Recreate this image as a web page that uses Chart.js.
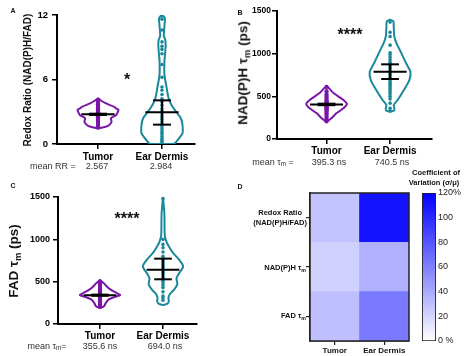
<!DOCTYPE html>
<html><head><meta charset="utf-8">
<script src="https://cdn.jsdelivr.net/npm/chart.js@4.4.1/dist/chart.umd.min.js"></script>
<style>
body{margin:0;background:#fff;}
#fig{position:relative;width:474px;height:356px;overflow:hidden;font-family:'Liberation Sans',Arial,sans-serif;color:#111;}
canvas{position:absolute;}
.t{position:absolute;white-space:nowrap;line-height:1;transform:translate(-50%,-50%);}
.r{position:absolute;white-space:nowrap;line-height:1.3;transform:translate(-100%,-50%);text-align:center;}
.rot{transform:translate(-50%,-50%) rotate(-90deg);}
.b{font-weight:bold;}
.m{font-size:9px;color:#333;}
sub{font-size:70%;vertical-align:-0.3em;line-height:0;}
</style></head>
<body><div id="fig">
<canvas id="cA" width="237" height="178" style="left:0;top:0"></canvas>
<canvas id="cB" width="237" height="178" style="left:237px;top:0"></canvas>
<canvas id="cC" width="237" height="178" style="left:0;top:178px"></canvas>
<canvas id="cD" width="237" height="178" style="left:237px;top:178px"></canvas>
<canvas id="cCB" width="64" height="178" style="left:410px;top:178px"></canvas>

<div class="t b" style="left:13px;top:10px;font-size:7px">A</div>
<div class="t b" style="left:240px;top:12px;font-size:7px">B</div>
<div class="t b" style="left:13px;top:185px;font-size:7px">C</div>
<div class="t b" style="left:240px;top:186px;font-size:7px">D</div>

<div class="t b rot" style="left:28px;top:80px;font-size:10px">Redox Ratio (NAD(P)H/FAD)</div>
<div class="t b rot" style="left:243px;top:73px;font-size:13.5px">NAD(P)H τ<sub>m</sub> (ps)</div>
<div class="t b rot" style="left:14px;top:261px;font-size:13.5px">FAD τ<sub>m</sub> (ps)</div>

<div class="t b" style="left:127px;top:80px;font-size:16px">*</div>
<div class="t b" style="left:350px;top:35px;font-size:16px">****</div>
<div class="t b" style="left:127px;top:219px;font-size:16px">****</div>

<div class="t m" style="left:53px;top:166px">mean RR =</div>
<div class="t m" id="mA0" style="left:97px;top:166px"></div>
<div class="t m" id="mA1" style="left:161px;top:166px"></div>
<div class="t m" style="left:273px;top:162px">mean τ<sub>m</sub> =</div>
<div class="t m" id="mB0" style="left:329px;top:162px"></div>
<div class="t m" id="mB1" style="left:392px;top:162px"></div>
<div class="t m" style="left:47px;top:346px">mean τ<sub>m</sub>=</div>
<div class="t m" id="mC0" style="left:100px;top:346px"></div>
<div class="t m" id="mC1" style="left:165px;top:346px"></div>

<div class="r b" style="left:307px;top:218px;font-size:7.5px">Redox Ratio<br>(NAD(P)H/FAD)</div>
<div class="r b" style="left:306px;top:268px;font-size:7.5px">NAD(P)H τ<sub>m</sub></div>
<div class="r b" style="left:306px;top:316px;font-size:7.5px">FAD τ<sub>m</sub></div>

<div class="t b" style="left:436px;top:173px;font-size:7.5px">Coefficient of</div>
<div class="t b" style="left:434px;top:183px;font-size:7.5px">Variation (σ/μ)</div>
</div>
<script>
// ---------- data ----------
const groups = ['Tumor', 'Ear Dermis'];

// Panel A: redox ratio
const rrTumor = [1.52,1.65,1.8,1.95,2.05,2.15,2.25,2.35,2.45,2.5,2.55,2.6,2.65,2.7,2.75,2.8,2.85,2.9,2.95,3.0,3.1,3.2,3.3,3.4,3.55,3.7,3.85,4.05];
const rrEar = [0.05,0.2,0.35,0.5,0.7,0.9,1.1,1.3,1.5,1.7,1.9,2.1,2.3,2.5,2.7,2.9,3.1,3.3,3.6,3.9,4.2,4.6,5.0,5.3,6.2,7.4,8.4,8.8,9.1,9.5,10.6,11.6,11.9];
const rrTumorLevels = [1.46,1.6,1.75,2.05,2.4,2.7,3.0,3.16,3.3,3.47,3.78,4.0,4.25];
const rrTumorDensity = [0,0.37,0.53,0.66,0.63,0.89,0.97,1,0.89,0.77,0.39,0.18,0];
const rrEarLevels = [0,0.1,0.4,1.0,1.8,2.4,3.0,3.66,4.28,5.2,6.45,7.7,8.6,9.2,9.7,10.05,11.0,11.7,12.05];
const rrEarDensity = [0.55,0.65,0.78,1,1,0.92,0.69,0.46,0.32,0.23,0.12,0.12,0.16,0.18,0.16,0.09,0.12,0.14,0];
const rrMedian = [2.76, 2.95];
const rrQ1 = [2.7, 1.8];
const rrQ3 = [2.82, 4.06];
const rrMean = ['2.567', '2.984'];

// Panel B: NAD(P)H tau_m
const nadTumor = [205,230,250,270,290,305,320,335,350,360,370,380,390,395,400,405,410,420,430,440,455,470,490,510,530,560,610];
const nadEar = [330,360,420,470,500,530,555,580,600,620,640,660,680,700,720,740,760,780,800,820,840,860,880,900,930,960,990,1010,1100,1200,1250,1370];
const nadTumorLevels = [199,243,301,360,410,457,535,590,621];
const nadTumorDensity = [0,0.24,0.48,0.83,1,0.83,0.36,0.14,0];
const nadEarLevels = [318,335,360,398,457,574,691,789,887,1004,1121,1199,1316,1380,1398];
const nadEarDensity = [0,0.2,0.21,0.18,0.37,0.68,0.95,1,0.79,0.56,0.32,0.21,0.18,0.16,0];
const nadMedian = [405, 789];
const nadQ1 = [396, 703];
const nadQ3 = [414, 875];
const nadMean = ['395.3 ns', '740.5 ns'];

// Panel C: FAD tau_m
const fadTumor = [200,215,230,250,270,290,300,310,320,330,335,340,345,350,355,360,370,380,390,400,420,440,460,480,500];
const fadEar = [280,310,330,380,430,460,490,510,530,550,570,590,610,630,650,670,690,710,730,750,770,800,850,900,940,1000,1480];
const fadTumorLevels = [189,210,250,290,320,342,360,390,430,480,520];
const fadTumorDensity = [0,0.2,0.29,0.44,0.73,1,0.88,0.63,0.39,0.2,0];
const fadEarLevels = [222,240,270,310,360,400,470,540,600,680,760,830,890,968,1047,1300,1500];
const fadEarDensity = [0,0.22,0.29,0.27,0.36,0.53,0.71,0.67,0.8,1,0.8,0.53,0.36,0.18,0.09,0.07,0];
const fadMedian = [340, 641];
const fadQ1 = [333, 528];
const fadQ3 = [347, 772];
const fadMean = ['355.6 ns', '694.0 ns'];

// Panel D: coefficient of variation (%)
const cvRows = ['Redox Ratio (NAD(P)H/FAD)', 'NAD(P)H τm', 'FAD τm'];
const cvTumor = [28, 22, 30];
const cvEar = [111, 37, 63];
const cvTicks = [0, 20, 40, 60, 80, 100, 120];

// ---------- drawing ----------
Chart.defaults.font.family = "'Liberation Sans', Arial, sans-serif";
Chart.defaults.color = '#000';
const PURPLE = '#7a16a6', TEAL = '#1a889b';
const HALF = 0.32, MED_HALF = 0.26, Q_HALF = 0.14;

['A','B','C'].forEach((p,k)=>{
  const m = [rrMean, nadMean, fadMean][k];
  document.getElementById('m'+p+'0').textContent = m[0];
  document.getElementById('m'+p+'1').textContent = m[1];
});

function outline(c, levels, dens){
  const right = levels.map((y,i)=>({x:c+dens[i]*HALF, y}));
  const left = levels.map((y,i)=>({x:c-dens[i]*HALF, y})).reverse();
  const pts = right.concat(left); pts.push(pts[0]); return pts;
}
function seg(x0,y0,x1,y1){ return [{x:x0,y:y0},{x:x1,y:y1}]; }
const blackLine = {showLine:true, pointRadius:0, borderColor:'#000', borderWidth:2, tension:0, fill:false};

function violinChart(id, v, o){
  const ds = [];
  [0,1].forEach(i=>{
    const c = i+1;
    ds.push(Object.assign({data:seg(c-MED_HALF,v.median[i],c+MED_HALF,v.median[i])}, blackLine));
    ds.push(Object.assign({data:seg(c-Q_HALF,v.q1[i],c+Q_HALF,v.q1[i])}, blackLine));
    ds.push(Object.assign({data:seg(c-Q_HALF,v.q3[i],c+Q_HALF,v.q3[i])}, blackLine));
    ds.push(Object.assign({data:seg(c,v.q1[i],c,v.q3[i])}, blackLine));
  });
  [0,1].forEach(i=>{
    const col = i===0?PURPLE:TEAL;
    ds.push({data:v.points[i].map(y=>({x:i+1,y})), pointRadius: i===0?2.1:1.8, pointBackgroundColor:col, pointBorderWidth:0, showLine:false});
  });
  [0,1].forEach(i=>{
    const col = i===0?PURPLE:TEAL;
    ds.push({data:outline(i+1, v.levels[i], v.dens[i]), showLine:true, pointRadius:0, borderColor:col, borderWidth:2, tension:0.25, fill:false});
  });
  new Chart(document.getElementById(id), {
    type:'scatter',
    data:{datasets:ds},
    options:{
      responsive:false, animation:false, devicePixelRatio:1,
      layout:{padding:{left:0, right:o.padRight, top:o.padTop, bottom:0}},
      plugins:{legend:{display:false}, tooltip:{enabled:false}},
      scales:{
        x:{type:'linear', min:o.xMin, max:o.xMax,
          afterBuildTicks:s=>{s.ticks=[{value:1},{value:2}];},
          ticks:{callback:val=>groups[Math.round(val)-1], font:{weight:'bold', size:10}, color:'#000', padding:o.xPad, maxRotation:0, autoSkip:false},
          grid:{drawOnChartArea:false, color:'#000', lineWidth:1.5, tickLength:5},
          border:{color:'#000', width:2},
          afterFit:s=>{s.height=o.xHeight;}},
        y:{min:0, max:o.yMax,
          ticks:{stepSize:o.yStep, callback:val=>String(val), font:{weight:'bold', size:o.yFont}, color:'#000', padding:o.yPad},
          grid:{drawOnChartArea:false, color:'#000', lineWidth:1.5, tickLength:5},
          border:{color:'#000', width:2},
          afterFit:s=>{s.width=o.yWidth;}}
      }
    }
  });
}

violinChart('cA', {median:rrMedian, q1:rrQ1, q3:rrQ3, points:[rrTumor, rrEar], levels:[rrTumorLevels, rrEarLevels], dens:[rrTumorDensity, rrEarDensity]},
  {xMin:0.359, xMax:2.516, yMax:12, yStep:6, padRight:42, padTop:15, xHeight:34, yWidth:57, yFont:9.5, yPad:4, xPad:2});
violinChart('cB', {median:nadMedian, q1:nadQ1, q3:nadQ3, points:[nadTumor, nadEar], levels:[nadTumorLevels, nadEarLevels], dens:[nadTumorDensity, nadEarDensity]},
  {xMin:0.22, xMax:2.66, yMax:1500, yStep:500, padRight:42, padTop:11, xHeight:39, yWidth:40, yFont:8.5, yPad:1, xPad:1});
violinChart('cC', {median:fadMedian, q1:fadQ1, q3:fadQ3, points:[fadTumor, fadEar], levels:[fadTumorLevels, fadEarLevels], dens:[fadTumorDensity, fadEarDensity]},
  {xMin:0.333, xMax:2.54, yMax:1500, yStep:500, padRight:40, padTop:19, xHeight:32, yWidth:58, yFont:9, yPad:3, xPad:1});

function cvColor(v){ const t=Math.min(v/120,1); const c=Math.round(255*(1-t)); return `rgb(${c},${c},255)`; }

const frame = {id:'frame', afterDatasetsDraw(chart){
  const {ctx, chartArea:a} = chart; ctx.save(); ctx.strokeStyle='#222'; ctx.lineWidth=1.5;
  ctx.strokeRect(a.left, a.top, a.right-a.left, a.bottom-a.top); ctx.restore(); }};

const heatDatasets = [2,1,0].map(r=>({
  label: cvRows[r], data:[1,1],
  backgroundColor:[cvColor(cvTumor[r]), cvColor(cvEar[r])],
  borderWidth:0, categoryPercentage:1, barPercentage:1
}));
new Chart(document.getElementById('cD'), {
  type:'bar',
  data:{labels:groups, datasets:heatDatasets},
  options:{
    responsive:false, animation:false, devicePixelRatio:1,
    layout:{padding:{left:0, right:65, top:15, bottom:0}},
    plugins:{legend:{display:false}, tooltip:{enabled:false}},
    scales:{
      x:{stacked:true, grid:{offset:false, drawOnChartArea:false, color:'#222', lineWidth:1.2, tickLength:4},
        border:{color:'#222', width:1.5},
        ticks:{font:{weight:'bold', size:8}, color:'#111', padding:1},
        afterFit:s=>{s.height=15;}},
      y:{stacked:true, min:0, max:3,
        afterBuildTicks:s=>{s.ticks=[{value:0.5},{value:1.5},{value:2.5}];},
        ticks:{callback:()=>''},
        grid:{drawOnChartArea:false, color:'#222', lineWidth:1.2, tickLength:4},
        border:{color:'#222', width:1.5},
        afterFit:s=>{s.width=73;}}
    }
  },
  plugins:[frame]
});

new Chart(document.getElementById('cCB'), {
  type:'bar',
  data:{labels:[''], datasets:[{data:[cvTicks[cvTicks.length-1]],
    backgroundColor:(ctx)=>{const a=ctx.chart.chartArea; if(!a) return '#8888ff';
      const g=ctx.chart.ctx.createLinearGradient(0,a.bottom,0,a.top);
      g.addColorStop(0,cvColor(0)); g.addColorStop(1,cvColor(120)); return g;},
    borderColor:'#222', borderWidth:1.2, borderSkipped:false, categoryPercentage:1, barPercentage:1}]},
  options:{
    responsive:false, animation:false, devicePixelRatio:1,
    layout:{padding:{left:12, right:0, top:15, bottom:15}},
    plugins:{legend:{display:false}, tooltip:{enabled:false}},
    scales:{
      x:{display:false},
      y:{position:'right', min:0, max:120,
        afterBuildTicks:s=>{s.ticks=cvTicks.map(v=>({value:v}));},
        ticks:{callback:v=> v===120?'120%':(v===0?'0 %':String(v)), font:{size:9}, color:'#222', padding:2},
        grid:{display:false, drawTicks:false},
        border:{display:false},
        afterFit:s=>{s.width=38;}}
    }
  }
});
</script>
</body></html>
